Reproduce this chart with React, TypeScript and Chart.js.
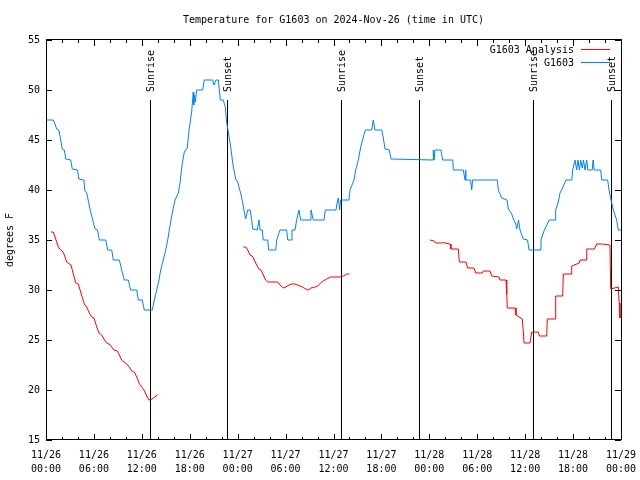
import { useEffect, useRef } from "react";
import { Chart, registerables } from "chart.js";
Chart.register(...registerables);

const chartTitle = "Temperature for G1603 on 2024-Nov-26 (time in UTC)";
const yAxisTitle = "degrees F";
const xTickHours = [0, 6, 12, 18, 24, 30, 36, 42, 48, 54, 60, 66, 72];
const xDayLabels = ["11/26", "11/27", "11/28", "11/29"];
const yTicks = [15, 20, 25, 30, 35, 40, 45, 50, 55];
const sunLabels = ["Sunrise", "Sunset", "Sunrise", "Sunset", "Sunrise", "Sunset"];
const sunHours = [13.06, 22.7, 36.98, 46.74, 61.02, 70.79];
const seriesNames = ["G1603 Analysis", "G1603"];
const seriesColors = ["#ff0000", "#0080ff"];

// hours since 11/26 00:00 UTC, temperature F
const observedG1603: [number, number][] = [
  [0, 47], [0.9, 47], [1.13, 46.6], [1.34, 46.1], [1.6, 46], [1.84, 45], [2.04, 44.1], [2.3, 44], [2.47, 43.1],
  [3.1, 43], [3.29, 42.1], [3.95, 42], [4.1, 41.1], [4.75, 41], [4.85, 40], [5.1, 39.7], [5.5, 38.1], [5.85, 37],
  [6.15, 36.1], [6.45, 36], [6.67, 35], [7.48, 35], [7.73, 34], [8.23, 34], [8.43, 33], [9.18, 33], [9.48, 32],
  [9.8, 31], [10.3, 31], [10.6, 30], [11.36, 30], [11.56, 29], [12.06, 29], [12.31, 28], [13.31, 28], [13.56, 29],
  [13.86, 30], [14.15, 31], [14.36, 32], [14.69, 33], [14.99, 34], [15.24, 35], [15.44, 36], [15.74, 37.4],
  [16.15, 39], [16.57, 39.7], [16.78, 40.7], [17.07, 42.7], [17.32, 43.8], [17.69, 44.2], [17.91, 46],
  [18.24, 47.8], [18.44, 49.8], [18.5, 48.5], [18.6, 49.5], [18.7, 48.8], [18.87, 50], [19.62, 50], [19.82, 51],
  [20.87, 51], [21.04, 50.5], [21.29, 51], [21.58, 51], [21.83, 49], [22.2, 49], [22.45, 48.3], [22.63, 46.7],
  [22.83, 45.8], [23.13, 44.3], [23.38, 42.7], [23.75, 41.1], [24.0, 40.8], [24.26, 40], [24.38, 39.7],
  [24.63, 38.7], [24.83, 37.8], [25.0, 37.1], [25.26, 38], [25.55, 38], [25.76, 37], [25.88, 36.1], [26.46, 36],
  [26.67, 37], [26.8, 36], [27.08, 36], [27.21, 35], [27.76, 35], [27.89, 34], [28.76, 34], [28.89, 35],
  [29.3, 36], [30.14, 36], [30.27, 35], [30.68, 35], [30.8, 36], [31.18, 36], [31.39, 37], [31.68, 38],
  [31.89, 37], [33.06, 37], [33.18, 38], [33.47, 37], [34.81, 37], [34.97, 38], [36.31, 38], [36.44, 38.7],
  [36.6, 39.2], [36.78, 38], [36.88, 39], [37.94, 39], [38.07, 40], [38.57, 41], [38.78, 42], [39.11, 43],
  [39.41, 44.3], [39.73, 45.3], [39.98, 46], [40.78, 46], [40.98, 47], [41.2, 46], [42.04, 46], [42.24, 45.2],
  [42.45, 44.1], [42.99, 44], [43.2, 43.1], [48.46, 43], [48.5, 44], [48.59, 43], [48.71, 44], [49.46, 44],
  [49.67, 43], [50.93, 43], [51.0, 42], [52.25, 42], [52.47, 41], [52.53, 42], [52.59, 41], [53.16, 41],
  [53.31, 40], [53.41, 41], [56.51, 41], [56.64, 40], [57.06, 39.2], [57.73, 39], [57.9, 38.1], [58.32, 37.6],
  [58.52, 37.1], [58.82, 36.6], [58.94, 36.1], [59.17, 37], [59.35, 36], [59.77, 35.1], [60.3, 35], [60.48, 34],
  [61.86, 34], [61.98, 35], [62.4, 36], [63.02, 37], [63.74, 37], [63.82, 38], [64.15, 38.8], [64.36, 39.7],
  [64.57, 40], [65.11, 41], [65.83, 41], [65.95, 42], [66.24, 43], [66.45, 42], [66.6, 43], [66.8, 42],
  [66.95, 43], [67.15, 42.2], [67.3, 43], [67.5, 42], [67.7, 43], [67.85, 42], [68.4, 42], [68.5, 43],
  [68.65, 42], [69.46, 42], [69.58, 41], [70.33, 41], [70.5, 40], [70.75, 39], [71.04, 38], [71.46, 37],
  [71.66, 36], [72, 36],
];

const analysisG1603: [number, number | null][] = [
  [0.63, 35.8], [0.91, 35.8], [1.13, 35.3], [1.54, 34.3], [1.84, 34], [2.04, 33.9], [2.25, 33.6], [2.59, 32.8],
  [2.92, 32.6], [3.13, 32.5], [3.42, 31.6], [3.72, 30.7], [4.04, 30.6], [4.38, 29.7], [4.8, 28.6], [5.1, 28.3],
  [5.42, 27.7], [5.72, 27.3], [6.01, 27.2], [6.35, 26.3], [6.64, 25.7], [6.97, 25.5], [7.26, 25.1], [7.6, 24.7],
  [7.89, 24.6], [8.23, 24.3], [8.51, 24], [8.93, 23.9], [9.18, 23.5], [9.48, 23], [9.77, 22.8], [10.11, 22.6],
  [10.43, 22.3], [10.73, 21.9], [11.06, 21.8], [11.36, 21.3], [11.65, 20.7], [11.98, 20.3], [12.27, 20],
  [12.61, 19.4], [12.9, 19], [13.11, 19], [13.44, 19.2], [13.94, 19.5],
  [19, null],
  [24.71, 34.3], [25.01, 34.3], [25.26, 34], [25.55, 33.5], [25.83, 33.4], [26.08, 33], [26.38, 32.5],
  [26.67, 32.1], [26.92, 32], [27.21, 31.5], [27.51, 31], [27.76, 30.8], [29.01, 30.8], [29.3, 30.5],
  [29.71, 30.2], [30.02, 30.3], [30.43, 30.5], [30.77, 30.6], [31.18, 30.6], [31.81, 30.4], [32.09, 30.3],
  [32.52, 30.1], [32.85, 30], [33.18, 30.2], [33.68, 30.3], [34.02, 30.4], [34.4, 30.7], [34.72, 30.9],
  [35.15, 31.1], [35.65, 31.3], [36.81, 31.3], [37.23, 31.4], [37.65, 31.6], [37.98, 31.6],
  [43, null],
  [48.08, 35], [48.62, 34.9], [48.8, 34.7], [49.55, 34.7], [49.67, 34.75], [50.59, 34.6], [50.71, 34.1],
  [51.63, 34.1], [51.75, 32.8], [52.59, 32.8], [52.8, 32.2], [53.59, 32.2], [53.81, 31.7], [54.63, 31.7],
  [54.76, 31.9], [55.6, 31.9], [55.81, 31.4], [56.73, 31.3], [56.85, 31], [57.6, 31], [57.69, 29.6],
  [57.76, 28.2], [58.73, 28.2], [58.85, 27.5], [59.64, 27.1], [59.77, 25.8], [59.86, 24.7], [60.61, 24.7],
  [60.82, 25.8], [61.65, 25.8], [61.77, 25.4], [62.7, 25.4], [62.77, 27.1], [63.74, 27.1], [63.82, 29.4],
  [64.7, 29.4], [64.78, 31.6], [65.74, 31.6], [65.83, 32.4], [66.78, 32.7], [66.87, 33], [67.62, 33],
  [67.71, 34.1], [68.66, 34.1], [68.96, 34.6], [69.66, 34.6], [70.62, 34.5], [70.71, 30.1], [71.66, 30.3],
  [71.78, 28.7], [71.87, 27.2],
];

const FONT = "'DejaVu Sans Mono', monospace";

const decorPlugin = {
  id: "decor",
  beforeDatasetsDraw(chart: any) {
    const { ctx, chartArea, scales } = chart;
    const xs = scales.x;
    ctx.save();
    ctx.strokeStyle = "#000";
    ctx.lineWidth = 1;
    ctx.fillStyle = "#000";
    ctx.font = `10px ${FONT}`;
    sunHours.forEach((h, i) => {
      const x = Math.round(xs.getPixelForValue(h)) + 0.5;
      ctx.beginPath();
      ctx.moveTo(x, chartArea.top + 60);
      ctx.lineTo(x, chartArea.bottom);
      ctx.stroke();
      ctx.save();
      ctx.translate(x + 1, chartArea.top + 52);
      ctx.rotate(-Math.PI / 2);
      ctx.textAlign = "left";
      ctx.textBaseline = "middle";
      ctx.fillText(sunLabels[i], 0, 0);
      ctx.restore();
    });
    ctx.restore();
  },
  afterDraw(chart: any) {
    const { ctx, chartArea, scales } = chart;
    const xs = scales.x;
    const ys = scales.y;
    const { left, right, top, bottom } = chartArea;
    ctx.save();
    ctx.strokeStyle = "#000";
    ctx.lineWidth = 1;
    ctx.beginPath();
    for (let h = 0; h <= 72; h += 2) {
      const x = Math.round(xs.getPixelForValue(h)) + 0.5;
      const len = h % 6 === 0 ? 6 : 3;
      ctx.moveTo(x, bottom);
      ctx.lineTo(x, bottom - len);
      ctx.moveTo(x, top);
      ctx.lineTo(x, top + len);
    }
    yTicks.forEach((v) => {
      const y = Math.round(ys.getPixelForValue(v)) + 0.5;
      ctx.moveTo(left, y);
      ctx.lineTo(left + 6, y);
      ctx.moveTo(right, y);
      ctx.lineTo(right - 6, y);
    });
    ctx.stroke();
    ctx.strokeRect(Math.round(left) + 0.5, Math.round(top) - 0.5, Math.round(right - left), Math.round(bottom - top));

    ctx.fillStyle = "#000";
    ctx.font = `10px ${FONT}`;
    ctx.textAlign = "center";
    ctx.textBaseline = "middle";
    ctx.fillText(chartTitle, (left + right) / 2, 20);

    ctx.save();
    ctx.translate(10, (top + bottom) / 2);
    ctx.rotate(-Math.PI / 2);
    ctx.fillText(yAxisTitle, 0, 0);
    ctx.restore();

    ctx.textAlign = "right";
    seriesNames.forEach((name, i) => {
      const y = 50 + i * 13;
      ctx.fillStyle = "#000";
      ctx.fillText(name, 574, y);
      ctx.strokeStyle = seriesColors[i];
      ctx.beginPath();
      ctx.moveTo(581, y - 0.5);
      ctx.lineTo(610, y - 0.5);
      ctx.stroke();
    });
    ctx.restore();
  },
};

export default function App() {
  const ref = useRef<HTMLCanvasElement>(null);
  useEffect(() => {
    if (!ref.current) return;
    Chart.defaults.font.family = FONT;
    Chart.defaults.font.size = 10;
    Chart.defaults.color = "#000";
    const chart = new Chart(ref.current, {
      type: "line",
      data: {
        datasets: [
          {
            label: seriesNames[0],
            data: analysisG1603.map(([x, y]) => ({ x, y })) as any,
            borderColor: seriesColors[0],
            borderWidth: 1,
            pointRadius: 0,
            spanGaps: false,
            tension: 0,
          },
          {
            label: seriesNames[1],
            data: observedG1603.map(([x, y]) => ({ x, y })),
            borderColor: seriesColors[1],
            borderWidth: 1,
            pointRadius: 0,
            tension: 0,
          },
        ],
      },
      options: {
        animation: false,
        responsive: false,
        devicePixelRatio: 1,
        layout: { padding: { left: 0, right: 19, top: 40, bottom: 0 } },
        plugins: { legend: { display: false }, title: { display: false }, tooltip: { enabled: false } },
        scales: {
          x: {
            type: "linear",
            min: 0,
            max: 72,
            grid: { display: false, drawTicks: false },
            border: { display: false },
            afterBuildTicks: (s: any) => {
              s.ticks = xTickHours.map((v) => ({ value: v }));
            },
            afterFit: (s: any) => {
              s.height = 40;
              s.paddingLeft = 0;
              s.paddingRight = 0;
            },
            ticks: {
              autoSkip: false,
              maxRotation: 0,
              padding: 8,
              font: { family: FONT, size: 10, lineHeight: 1.4 },
              color: "#000",
              callback: (v: any) => {
                const h = Number(v);
                const day = xDayLabels[Math.floor(h / 24)];
                const hh = String(h % 24).padStart(2, "0");
                return [day, `${hh}:00`];
              },
            },
          },
          y: {
            min: 15,
            max: 55,
            grid: { display: false, drawTicks: false },
            border: { display: false },
            afterBuildTicks: (s: any) => {
              s.ticks = yTicks.map((v) => ({ value: v }));
            },
            afterFit: (s: any) => {
              s.width = 46;
              s.paddingTop = 0;
              s.paddingBottom = 0;
            },
            ticks: { padding: 6, font: { family: FONT, size: 10 }, color: "#000" },
          },
        },
      },
      plugins: [decorPlugin],
    });
    return () => chart.destroy();
  }, []);
  return (
    <div style={{ position: "absolute", left: 0, top: 0, width: 640, height: 480, background: "#fff" }}>
      <canvas ref={ref} width={640} height={480} style={{ display: "block" }} />
    </div>
  );
}
